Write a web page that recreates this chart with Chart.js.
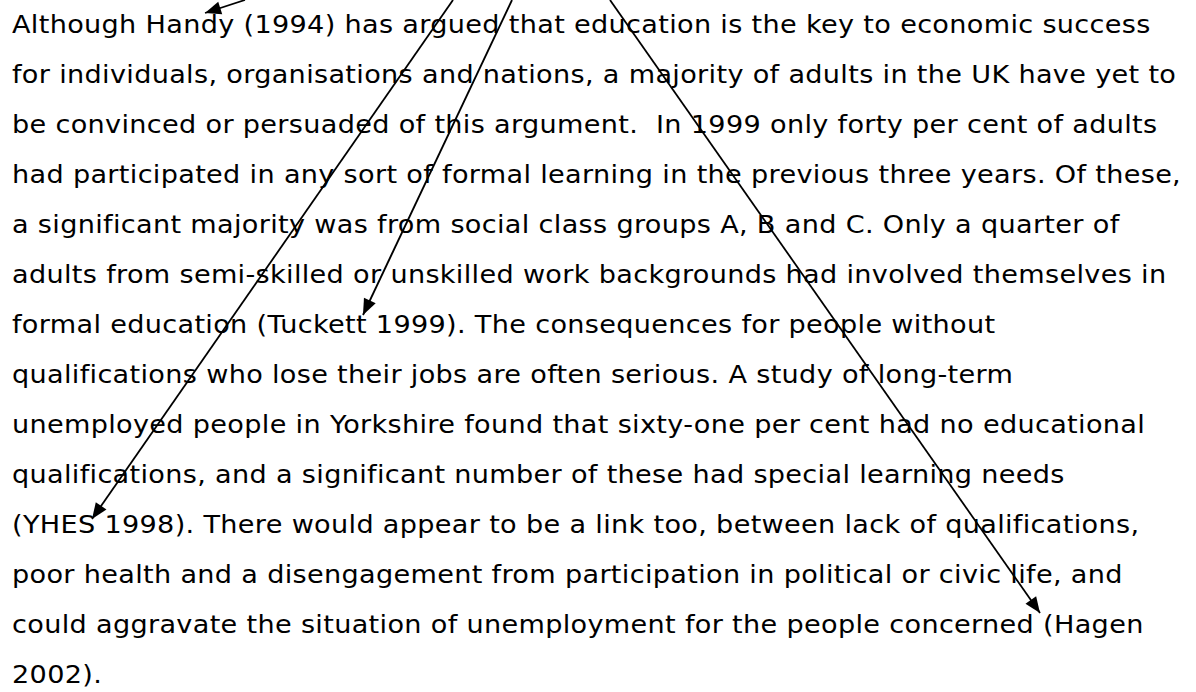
<!DOCTYPE html>
<html>
<head>
<meta charset="utf-8">
<script src="https://cdn.jsdelivr.net/npm/chart.js@4/dist/chart.umd.min.js"></script>
<style>
  html, body { margin: 0; padding: 0; background: #fff; }
  #wrap { position: relative; width: 1196px; height: 692px; overflow: hidden; }
  #text { position: absolute; left: 12px; top: 0; font-family: "DejaVu Sans", Verdana, sans-serif;
          font-size: 25px; line-height: 50px; color: #000; letter-spacing: 0.3px;
          transform: scaleX(1.084); transform-origin: 0 0; }
  #text div { white-space: pre; }
  #chartBox { position: absolute; left: 0; top: 0; width: 1196px; height: 692px; pointer-events: none; }
</style>
</head>
<body>
<div id="wrap">
  <div id="text"></div>
  <div id="chartBox"><canvas id="c"></canvas></div>
</div>
<script>
// Paragraph lines (as broken in the reference)
const textLines = [
  "Although Handy (1994) has argued that education is the key to economic success",
  "for individuals, organisations and nations, a majority of adults in the UK have yet to",
  "be convinced or persuaded of this argument.  In 1999 only forty per cent of adults",
  "had participated in any sort of formal learning in the previous three years. Of these,",
  "a significant majority was from social class groups A, B and C. Only a quarter of",
  "adults from semi-skilled or unskilled work backgrounds had involved themselves in",
  "formal education (Tuckett 1999). The consequences for people without",
  "qualifications who lose their jobs are often serious. A study of long-term",
  "unemployed people in Yorkshire found that sixty-one per cent had no educational",
  "qualifications, and a significant number of these had special learning needs",
  "(YHES 1998). There would appear to be a link too, between lack of qualifications,",
  "poor health and a disengagement from participation in political or civic life, and",
  "could aggravate the situation of unemployment for the people concerned (Hagen",
  "2002)."
];

// Arrows: start and end points (in page units)
const arrowNames = ["Handy", "YHES", "Tuckett", "Hagen"];
const arrowFromX = [245, 453, 512, 610];
const arrowFromY = [0, 0, 0, 0];
const arrowToX   = [205, 92, 363, 1040];
const arrowToY   = [13, 519, 315, 613];

// Render text
const tbox = document.getElementById('text');
textLines.forEach(l => {
  const d = document.createElement('div');
  d.textContent = l;
  tbox.appendChild(d);
});

const datasets = arrowNames.map((n, i) => ({
  label: n,
  data: [{x: arrowFromX[i], y: arrowFromY[i]}, {x: arrowToX[i], y: arrowToY[i]}],
  borderColor: '#000',
  backgroundColor: '#000',
  borderWidth: 1.8,
  pointRadius: 0,
  showLine: true,
  tension: 0
}));

const arrowHeads = {
  id: 'arrowHeads',
  afterDatasetsDraw(chart) {
    const ctx = chart.ctx;
    chart.data.datasets.forEach((ds, i) => {
      const pts = chart.getDatasetMeta(i).data;
      if (pts.length < 2) return;
      const a = pts[pts.length - 2], b = pts[pts.length - 1];
      const ang = Math.atan2(b.y - a.y, b.x - a.x);
      const len = 16, half = 6.5;
      ctx.save();
      ctx.fillStyle = '#000';
      ctx.beginPath();
      ctx.moveTo(b.x, b.y);
      ctx.lineTo(b.x - len * Math.cos(ang) + half * Math.sin(ang), b.y - len * Math.sin(ang) - half * Math.cos(ang));
      ctx.lineTo(b.x - len * Math.cos(ang) - half * Math.sin(ang), b.y - len * Math.sin(ang) + half * Math.cos(ang));
      ctx.closePath();
      ctx.fill();
      ctx.restore();
    });
  }
};

new Chart(document.getElementById('c'), {
  type: 'scatter',
  data: { datasets },
  options: {
    responsive: true,
    maintainAspectRatio: false,
    animation: false,
    layout: { padding: 0 },
    plugins: { legend: { display: false }, tooltip: { enabled: false } },
    scales: {
      x: { type: 'linear', min: 0, max: 1196, display: false },
      y: { type: 'linear', min: 0, max: 692, reverse: true, display: false }
    },
    elements: { line: { borderCapStyle: 'butt' } }
  },
  plugins: [arrowHeads]
});
</script>
</body>
</html>
